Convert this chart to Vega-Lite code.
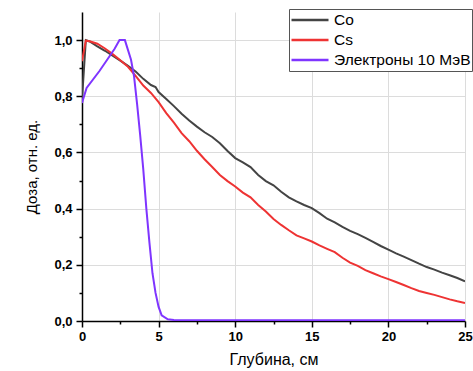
{
  "$schema": "https://vega.github.io/schema/vega-lite/v6.json",
  "autosize": "none",
  "width": 383,
  "height": 309,
  "padding": {"left": 82, "top": 12, "right": 8, "bottom": 50},
  "background": "white",
  "config": {
    "view": {"stroke": null},
    "font": "Liberation Sans"
  },
  "data": {"values": [
    {"x": 0, "y": 0.79, "s": "Co"},
    {"x": 0.25, "y": 1.0, "s": "Co"},
    {"x": 0.5, "y": 0.995, "s": "Co"},
    {"x": 1.0, "y": 0.978, "s": "Co"},
    {"x": 1.5, "y": 0.962, "s": "Co"},
    {"x": 2.0, "y": 0.945, "s": "Co"},
    {"x": 2.5, "y": 0.927, "s": "Co"},
    {"x": 3.0, "y": 0.908, "s": "Co"},
    {"x": 3.5, "y": 0.888, "s": "Co"},
    {"x": 4.0, "y": 0.862, "s": "Co"},
    {"x": 4.5, "y": 0.840, "s": "Co"},
    {"x": 4.8, "y": 0.833, "s": "Co"},
    {"x": 5.0, "y": 0.815, "s": "Co"},
    {"x": 5.5, "y": 0.790, "s": "Co"},
    {"x": 6.0, "y": 0.765, "s": "Co"},
    {"x": 6.5, "y": 0.738, "s": "Co"},
    {"x": 7.0, "y": 0.714, "s": "Co"},
    {"x": 7.5, "y": 0.692, "s": "Co"},
    {"x": 8.0, "y": 0.672, "s": "Co"},
    {"x": 8.5, "y": 0.655, "s": "Co"},
    {"x": 9.0, "y": 0.633, "s": "Co"},
    {"x": 9.5, "y": 0.605, "s": "Co"},
    {"x": 10.0, "y": 0.580, "s": "Co"},
    {"x": 10.5, "y": 0.565, "s": "Co"},
    {"x": 11.0, "y": 0.548, "s": "Co"},
    {"x": 11.5, "y": 0.520, "s": "Co"},
    {"x": 12.0, "y": 0.498, "s": "Co"},
    {"x": 12.5, "y": 0.483, "s": "Co"},
    {"x": 13.0, "y": 0.460, "s": "Co"},
    {"x": 13.5, "y": 0.440, "s": "Co"},
    {"x": 14.0, "y": 0.426, "s": "Co"},
    {"x": 14.5, "y": 0.413, "s": "Co"},
    {"x": 15.0, "y": 0.402, "s": "Co"},
    {"x": 15.5, "y": 0.384, "s": "Co"},
    {"x": 16.0, "y": 0.364, "s": "Co"},
    {"x": 16.5, "y": 0.351, "s": "Co"},
    {"x": 17.0, "y": 0.335, "s": "Co"},
    {"x": 17.5, "y": 0.321, "s": "Co"},
    {"x": 18.0, "y": 0.309, "s": "Co"},
    {"x": 18.5, "y": 0.296, "s": "Co"},
    {"x": 19.0, "y": 0.282, "s": "Co"},
    {"x": 19.5, "y": 0.267, "s": "Co"},
    {"x": 20.0, "y": 0.254, "s": "Co"},
    {"x": 20.5, "y": 0.241, "s": "Co"},
    {"x": 21.0, "y": 0.229, "s": "Co"},
    {"x": 21.5, "y": 0.217, "s": "Co"},
    {"x": 22.0, "y": 0.204, "s": "Co"},
    {"x": 22.5, "y": 0.192, "s": "Co"},
    {"x": 23.0, "y": 0.183, "s": "Co"},
    {"x": 23.5, "y": 0.172, "s": "Co"},
    {"x": 24.0, "y": 0.163, "s": "Co"},
    {"x": 24.5, "y": 0.153, "s": "Co"},
    {"x": 25.0, "y": 0.141, "s": "Co"},
    {"x": 0, "y": 0.925, "s": "Cs"},
    {"x": 0.25, "y": 0.998, "s": "Cs"},
    {"x": 0.5, "y": 0.996, "s": "Cs"},
    {"x": 1.0, "y": 0.987, "s": "Cs"},
    {"x": 1.5, "y": 0.970, "s": "Cs"},
    {"x": 2.0, "y": 0.950, "s": "Cs"},
    {"x": 2.5, "y": 0.928, "s": "Cs"},
    {"x": 3.0, "y": 0.905, "s": "Cs"},
    {"x": 3.5, "y": 0.873, "s": "Cs"},
    {"x": 4.0, "y": 0.838, "s": "Cs"},
    {"x": 4.5, "y": 0.812, "s": "Cs"},
    {"x": 5.0, "y": 0.779, "s": "Cs"},
    {"x": 5.5, "y": 0.740, "s": "Cs"},
    {"x": 6.0, "y": 0.706, "s": "Cs"},
    {"x": 6.5, "y": 0.669, "s": "Cs"},
    {"x": 7.0, "y": 0.640, "s": "Cs"},
    {"x": 7.5, "y": 0.606, "s": "Cs"},
    {"x": 8.0, "y": 0.576, "s": "Cs"},
    {"x": 8.5, "y": 0.548, "s": "Cs"},
    {"x": 9.0, "y": 0.520, "s": "Cs"},
    {"x": 9.5, "y": 0.498, "s": "Cs"},
    {"x": 10.0, "y": 0.479, "s": "Cs"},
    {"x": 10.5, "y": 0.457, "s": "Cs"},
    {"x": 11.0, "y": 0.440, "s": "Cs"},
    {"x": 11.5, "y": 0.413, "s": "Cs"},
    {"x": 12.0, "y": 0.390, "s": "Cs"},
    {"x": 12.5, "y": 0.363, "s": "Cs"},
    {"x": 13.0, "y": 0.342, "s": "Cs"},
    {"x": 13.5, "y": 0.323, "s": "Cs"},
    {"x": 14.0, "y": 0.305, "s": "Cs"},
    {"x": 14.5, "y": 0.294, "s": "Cs"},
    {"x": 15.0, "y": 0.283, "s": "Cs"},
    {"x": 15.5, "y": 0.269, "s": "Cs"},
    {"x": 16.0, "y": 0.257, "s": "Cs"},
    {"x": 16.5, "y": 0.245, "s": "Cs"},
    {"x": 17.0, "y": 0.225, "s": "Cs"},
    {"x": 17.5, "y": 0.208, "s": "Cs"},
    {"x": 18.0, "y": 0.196, "s": "Cs"},
    {"x": 18.5, "y": 0.181, "s": "Cs"},
    {"x": 19.0, "y": 0.170, "s": "Cs"},
    {"x": 19.5, "y": 0.159, "s": "Cs"},
    {"x": 20.0, "y": 0.149, "s": "Cs"},
    {"x": 20.5, "y": 0.139, "s": "Cs"},
    {"x": 21.0, "y": 0.128, "s": "Cs"},
    {"x": 21.5, "y": 0.117, "s": "Cs"},
    {"x": 22.0, "y": 0.107, "s": "Cs"},
    {"x": 22.5, "y": 0.100, "s": "Cs"},
    {"x": 23.0, "y": 0.093, "s": "Cs"},
    {"x": 23.5, "y": 0.085, "s": "Cs"},
    {"x": 24.0, "y": 0.077, "s": "Cs"},
    {"x": 24.5, "y": 0.070, "s": "Cs"},
    {"x": 25.0, "y": 0.064, "s": "Cs"},
    {"x": 0, "y": 0.776, "s": "Электроны 10 МэВ"},
    {"x": 0.3, "y": 0.830, "s": "Электроны 10 МэВ"},
    {"x": 1.14, "y": 0.890, "s": "Электроны 10 МэВ"},
    {"x": 2.12, "y": 0.968, "s": "Электроны 10 МэВ"},
    {"x": 2.45, "y": 1.0, "s": "Электроны 10 МэВ"},
    {"x": 2.8, "y": 1.0, "s": "Электроны 10 МэВ"},
    {"x": 3.2, "y": 0.93, "s": "Электроны 10 МэВ"},
    {"x": 3.4, "y": 0.87, "s": "Электроны 10 МэВ"},
    {"x": 3.6, "y": 0.77, "s": "Электроны 10 МэВ"},
    {"x": 3.8, "y": 0.66, "s": "Электроны 10 МэВ"},
    {"x": 4.0, "y": 0.54, "s": "Электроны 10 МэВ"},
    {"x": 4.2, "y": 0.40, "s": "Электроны 10 МэВ"},
    {"x": 4.4, "y": 0.28, "s": "Электроны 10 МэВ"},
    {"x": 4.6, "y": 0.17, "s": "Электроны 10 МэВ"},
    {"x": 4.8, "y": 0.10, "s": "Электроны 10 МэВ"},
    {"x": 5.0, "y": 0.05, "s": "Электроны 10 МэВ"},
    {"x": 5.2, "y": 0.02, "s": "Электроны 10 МэВ"},
    {"x": 5.6, "y": 0.006, "s": "Электроны 10 МэВ"},
    {"x": 6.0, "y": 0.004, "s": "Электроны 10 МэВ"},
    {"x": 10.0, "y": 0.003, "s": "Электроны 10 МэВ"},
    {"x": 15.0, "y": 0.003, "s": "Электроны 10 МэВ"},
    {"x": 20.0, "y": 0.003, "s": "Электроны 10 МэВ"},
    {"x": 25.0, "y": 0.003, "s": "Электроны 10 МэВ"}
  ]},
  "mark": {"type": "line", "strokeWidth": 2, "clip": true},
  "encoding": {
    "x": {
      "field": "x", "type": "quantitative",
      "scale": {"domain": [0, 25], "nice": false, "zero": false},
      "axis": {
        "title": "Глубина, см",
        "values": [0, 2.5, 5, 7.5, 10, 12.5, 15, 17.5, 20, 22.5, 25],
        "labelExpr": "datum.value % 5 === 0 ? datum.label : ''",
        "labelFont": "Liberation Sans", "labelFontSize": 13, "labelFontWeight": "bold", "labelColor": "black",
        "labelPadding": 3, "labelFlush": false, "labelOverlap": false,
        "tickSize": {"condition": {"test": "datum.value % 5 === 0", "value": 6}, "value": 3},
        "tickColor": "black", "tickWidth": 1.5,
        "domainColor": "black", "domainWidth": 1.5,
        "grid": true, "gridColor": "#dcdcdc", "gridWidth": 1,
        "gridOpacity": {"condition": {"test": "datum.value % 5 === 0", "value": 1}, "value": 0},
        "titleFont": "Liberation Sans", "titleFontSize": 16, "titleFontWeight": "normal", "titleColor": "black",
        "titlePadding": 8
      }
    },
    "y": {
      "field": "y", "type": "quantitative",
      "scale": {"domain": [0, 1.1], "nice": false, "zero": false},
      "axis": {
        "title": "Доза, отн. ед.",
        "values": [0, 0.1, 0.2, 0.3, 0.4, 0.5, 0.6, 0.7, 0.8, 0.9, 1.0],
        "labelExpr": "round(datum.value * 10) % 2 === 0 ? replace(format(datum.value, '.1f'), '.', ',') : ''",
        "labelFont": "Liberation Sans", "labelFontSize": 13, "labelFontWeight": "bold", "labelColor": "black",
        "labelPadding": 4, "labelFlush": false, "labelOverlap": false,
        "tickSize": {"condition": {"test": "round(datum.value * 10) % 2 === 0", "value": 6}, "value": 3},
        "tickColor": "black", "tickWidth": 1.5,
        "domainColor": "black", "domainWidth": 1.5,
        "grid": true, "gridColor": "#dcdcdc", "gridWidth": 1,
        "gridOpacity": {"condition": {"test": "round(datum.value * 10) % 2 === 0", "value": 1}, "value": 0},
        "titleFont": "Liberation Sans", "titleFontSize": 15, "titleFontWeight": "normal", "titleColor": "black",
        "titlePadding": 14
      }
    },
    "color": {
      "field": "s", "type": "nominal",
      "scale": {"domain": ["Co", "Cs", "Электроны 10 МэВ"], "range": ["#444444", "#EE3333", "#7F35FF"]},
      "legend": {
        "title": null,
        "orient": "none",
        "legendX": 207,
        "legendY": -3,
        "symbolType": "stroke",
        "symbolSize": 1369,
        "symbolStrokeWidth": 2.5,
        "clipHeight": 20,
        "rowPadding": 0,
        "padding": 1,
        "labelOffset": 4,
        "labelFont": "Liberation Sans",
        "labelFontSize": 15.5,
        "labelColor": "black",
        "labelLimit": 300,
        "fillColor": "white",
        "strokeColor": "#555555"
      }
    }
  }
}
